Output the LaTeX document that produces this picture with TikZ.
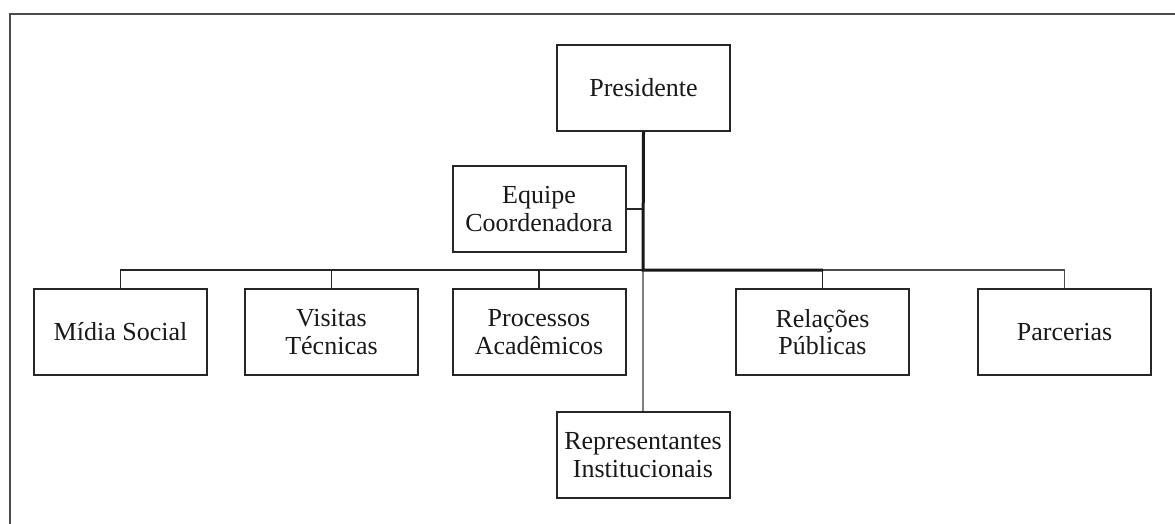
\documentclass[tikz,border=0pt]{standalone}
\usepackage{fontspec}
\setmainfont{Liberation Serif}
\begin{document}
\begin{tikzpicture}[x=1pt,y=-1pt,
  box/.style={draw=black!85, line width=2pt, minimum width=173pt, minimum height=86pt,
    inner sep=0pt, align=center, font=\fontsize{26}{27.5}\selectfont, text=black!90},
  conn/.style={draw=black!85, line width=1.8pt},
  trunk/.style={draw=black!90, line width=3pt},
  grayconn/.style={draw=black!50, line width=2.6pt}]
\useasboundingbox (0,0) rectangle (1175,523);
\draw[black!70, line width=2pt] (10,530) -- (10,14) -- (1180,14);
\node[box] (pres) at (643.5,87.5) {Presidente};
\node[box] (equipe) at (539,209) {Equipe\\Coordenadora};
\node[box] (midia) at (120.5,332) {Mídia Social};
\node[box] (visitas) at (331.5,332) {Visitas\\Técnicas};
\node[box] (proc) at (539,332) {Processos\\Acadêmicos};
\node[box] (rel) at (822.5,332) {Relações\\Públicas};
\node[box] (parc) at (1064.5,332) {Parcerias};
\node[box] (rep) at (643,455) {Representantes\\Institucionais};
\coordinate (bus) at (643,270);
\draw[grayconn] (bus) -- (rep.north);
\draw[conn] (bus) -| (midia.north);
\draw[conn] (bus) -| (visitas.north);
\draw[conn] (bus) -| (proc.north);
\draw[conn] (bus) -| (rel.north);
\draw[conn, draw=black!70] (bus) -| (parc.north);
\draw[conn] (equipe.east) -- (equipe.east -| bus);
\draw[trunk] (pres.south) -- (bus) -- ++(180,0);
\end{tikzpicture}
\end{document}
